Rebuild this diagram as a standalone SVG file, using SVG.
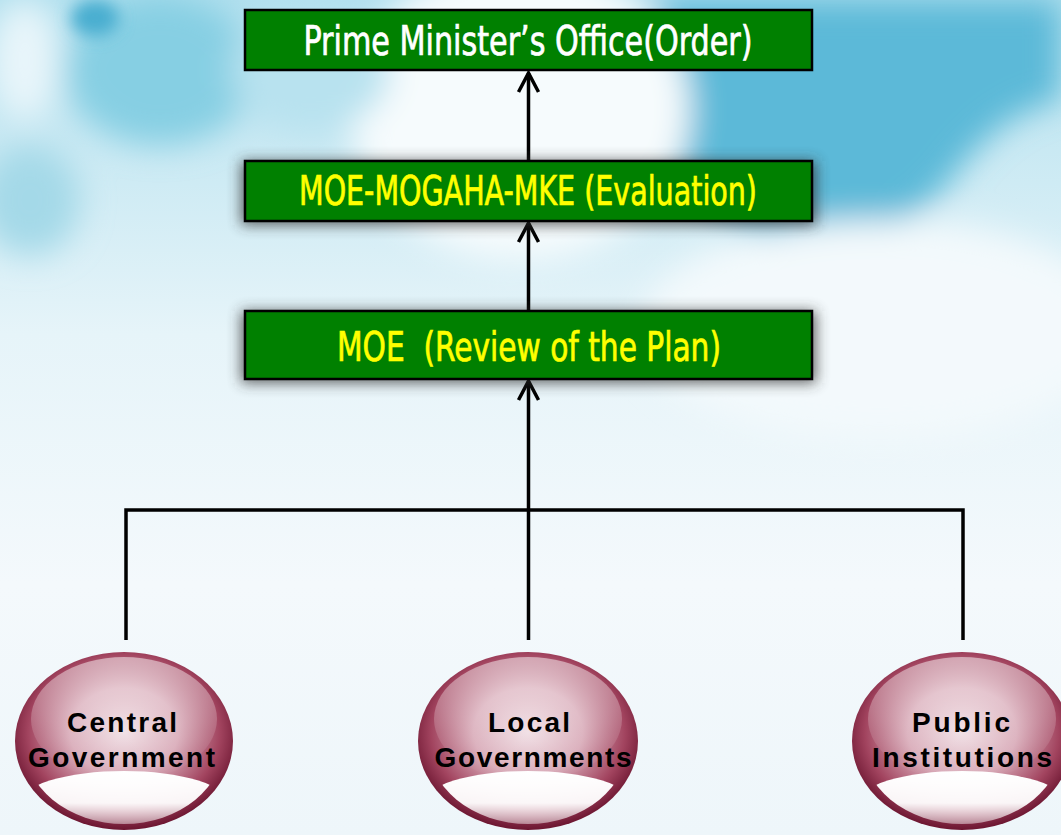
<svg xmlns="http://www.w3.org/2000/svg" width="1061" height="835" viewBox="0 0 1061 835">
<style>
.box{fill:#008000;stroke:#000;stroke-width:2.5}
.bt{font-family:"DejaVu Sans Condensed","DejaVu Sans","Liberation Sans",sans-serif;font-size:40px;text-anchor:middle;white-space:pre;stroke-width:0.7}
.ct{font-family:"Liberation Sans",Arial,sans-serif;font-weight:bold;font-size:28px;fill:#000;text-anchor:middle}
.ln{stroke:#000;stroke-width:3.5;fill:none}
.orb{fill:url(#orb)}
.hl{fill:url(#hl)}
.rf{fill:url(#rf)}
</style>
<defs>
<linearGradient id="sky" x1="0" y1="0" x2="0" y2="1">
<stop offset="0" stop-color="#b2e0ee"/>
<stop offset="0.4" stop-color="#e6f4f9"/>
<stop offset="0.7" stop-color="#f4f9fc"/>
<stop offset="1" stop-color="#eef6fa"/>
</linearGradient>
<filter id="blur" x="-50%" y="-50%" width="200%" height="200%"><feGaussianBlur stdDeviation="16"/></filter>
<filter id="blur2" x="-50%" y="-50%" width="200%" height="200%"><feGaussianBlur stdDeviation="8"/></filter>
<filter id="sh" x="-20%" y="-50%" width="140%" height="200%"><feGaussianBlur stdDeviation="7"/></filter>
<radialGradient id="orb" cx="0.5" cy="0.45" r="0.55">
<stop offset="0" stop-color="#efdce2"/>
<stop offset="0.45" stop-color="#d8a9b7"/>
<stop offset="0.8" stop-color="#a2445f"/>
<stop offset="1" stop-color="#6b1530"/>
</radialGradient>
<linearGradient id="hl" x1="0" y1="0" x2="0" y2="1">
<stop offset="0" stop-color="#fff" stop-opacity="0.5"/>
<stop offset="0.6" stop-color="#fff" stop-opacity="0.15"/>
<stop offset="1" stop-color="#fff" stop-opacity="0"/>
</linearGradient>
<linearGradient id="rf" x1="0" y1="0" x2="0" y2="1">
<stop offset="0" stop-color="#fff" stop-opacity="1"/>
<stop offset="0.5" stop-color="#fff" stop-opacity="0.95"/>
<stop offset="1" stop-color="#fff" stop-opacity="0.2"/>
</linearGradient>
<clipPath id="inner"><ellipse cx="0" cy="0" rx="101" ry="83"/></clipPath>
<marker id="arr" markerUnits="userSpaceOnUse" markerWidth="30" markerHeight="30" viewBox="-24 -15 30 30" refX="0" refY="0" orient="auto">
<path d="M-19,-10 L0,0 L-19,10" fill="none" stroke="#000" stroke-width="3.5"/>
</marker>
</defs>

<g id="background">
<rect x="0" y="0" width="1061" height="835" fill="url(#sky)"/>
<g filter="url(#blur)">
<path d="M650,0 L1061,0 L1061,100 C1010,110 980,140 950,180 C900,240 820,250 760,230 C700,210 660,180 650,120 Z" fill="#5bb9d8"/>
<ellipse cx="160" cy="70" rx="95" ry="75" fill="#86cfe3"/>
<ellipse cx="25" cy="60" rx="35" ry="60" fill="#e8f5fa"/>
<ellipse cx="30" cy="200" rx="50" ry="55" fill="#a4d9e8"/>
<ellipse cx="520" cy="110" rx="170" ry="150" fill="#f6fbfd"/>
<ellipse cx="310" cy="70" rx="80" ry="60" fill="#b8e2ef"/>
<ellipse cx="880" cy="330" rx="240" ry="110" fill="#f3f9fc"/>
</g>
<ellipse cx="95" cy="18" rx="24" ry="18" fill="#4aaed0" filter="url(#blur2)"/>
</g>

<g id="connectors">
<line class="ln" x1="528.5" y1="161" x2="528.5" y2="73" marker-end="url(#arr)"/>
<line class="ln" x1="528.5" y1="311" x2="528.5" y2="223" marker-end="url(#arr)"/>
<line class="ln" x1="528.5" y1="510" x2="528.5" y2="381" marker-end="url(#arr)"/>
<polyline class="ln" points="126,640 126,510 963,510 963,640"/>
<line class="ln" x1="528.5" y1="510" x2="528.5" y2="640"/>
</g>

<g id="node-pmo">
<rect class="box" x="245" y="10" width="567" height="60"/>
<text class="bt" x="528" y="55" fill="#fff" stroke="#fff" textLength="449" lengthAdjust="spacingAndGlyphs">Prime Minister’s Office(Order)</text>
</g>

<g id="node-eval">
<rect x="241" y="161" width="575" height="64" fill="#333" opacity="0.75" filter="url(#sh)"/>
<rect class="box" x="245" y="161" width="567" height="60"/>
<text class="bt" x="528" y="205" fill="#ff0" stroke="#ff0" textLength="458" lengthAdjust="spacingAndGlyphs">MOE-MOGAHA-MKE (Evaluation)</text>
</g>

<g id="node-review">
<rect x="241" y="311" width="575" height="72" fill="#333" opacity="0.75" filter="url(#sh)"/>
<rect class="box" x="245" y="311" width="567" height="68"/>
<text class="bt" x="529" y="361" fill="#ff0" stroke="#ff0" textLength="384" lengthAdjust="spacingAndGlyphs">MOE  (Review of the Plan)</text>
</g>

<g id="node-central" transform="translate(124,741)">
<ellipse class="orb" cx="0" cy="0" rx="109" ry="89"/>
<ellipse class="hl" cx="0" cy="-22" rx="93" ry="62"/>
<ellipse class="rf" cx="0" cy="62" rx="104" ry="32" clip-path="url(#inner)"/>
<text class="ct" x="-2" y="-9" textLength="110" lengthAdjust="spacing">Central</text>
<text class="ct" x="-2.5" y="26" textLength="187" lengthAdjust="spacing">Government</text>
</g>

<g id="node-local" transform="translate(528,741)">
<ellipse class="orb" cx="0" cy="0" rx="110" ry="89"/>
<ellipse class="hl" cx="0" cy="-22" rx="94" ry="62"/>
<ellipse class="rf" cx="0" cy="62" rx="104" ry="32" clip-path="url(#inner)"/>
<text class="ct" x="1" y="-9" textLength="82" lengthAdjust="spacing">Local</text>
<text class="ct" x="5" y="26" textLength="197" lengthAdjust="spacing">Governments</text>
</g>

<g id="node-public" transform="translate(962,741)">
<ellipse class="orb" cx="0" cy="0" rx="110" ry="89"/>
<ellipse class="hl" cx="0" cy="-22" rx="94" ry="62"/>
<ellipse class="rf" cx="0" cy="62" rx="104" ry="32" clip-path="url(#inner)"/>
<text class="ct" x="-1" y="-9" textLength="98" lengthAdjust="spacing">Public</text>
<text class="ct" x="0" y="26" textLength="180" lengthAdjust="spacing">Institutions</text>
</g>
</svg>
